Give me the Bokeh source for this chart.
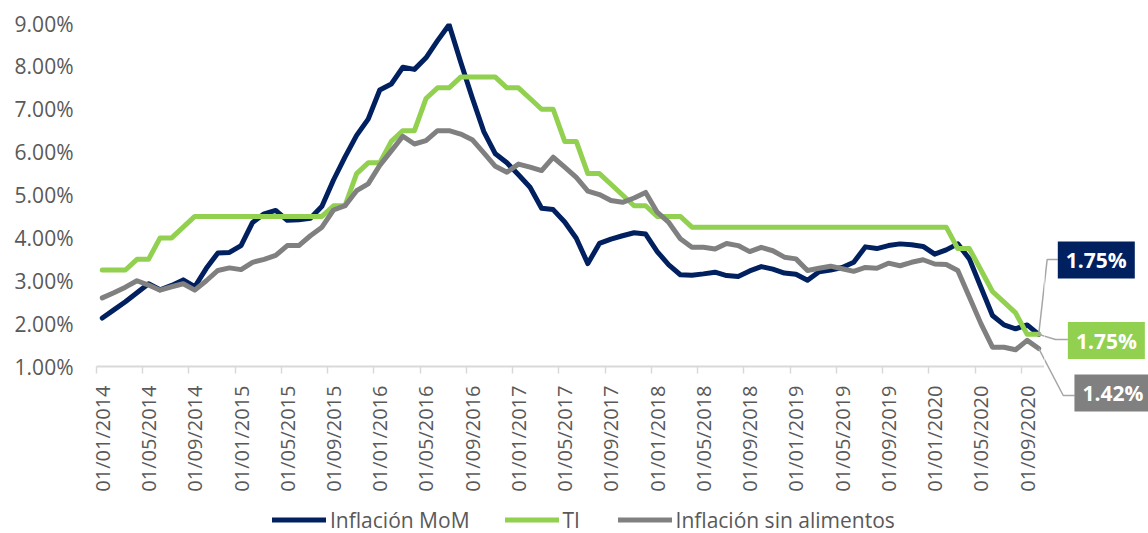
import numpy as np
from bokeh.plotting import figure
from bokeh.layouts import row, column
from bokeh.models import Range1d, FixedTicker, Legend, LegendItem
from bokeh.core.properties import value
from bokeh.embed import file_html
from bokeh.resources import INLINE

# ---- data -------------------------------------------------------------
months = [f"01/{m:02d}/{y}" for y in range(2014, 2021) for m in range(1, 13)][:82]

inflacion_mom = [
    2.13, 2.32, 2.51, 2.72, 2.93, 2.79, 2.89, 3.02, 2.86, 3.29, 3.65, 3.66,
    3.82, 4.36, 4.56, 4.64, 4.41, 4.42, 4.46, 4.74, 5.35, 5.89, 6.39, 6.77,
    7.45, 7.59, 7.98, 7.93, 8.20, 8.60, 8.97, 8.10, 7.27, 6.48, 5.96, 5.75,
    5.47, 5.18, 4.69, 4.66, 4.37, 3.99, 3.40, 3.87, 3.97, 4.05, 4.12, 4.09,
    3.68, 3.37, 3.14, 3.13, 3.16, 3.20, 3.12, 3.10, 3.23, 3.33, 3.27, 3.18,
    3.15, 3.01, 3.21, 3.25, 3.31, 3.43, 3.79, 3.75, 3.82, 3.86, 3.84, 3.80,
    3.62, 3.72, 3.86, 3.51, 2.85, 2.19, 1.97, 1.88, 1.97, 1.75,
]

ti = [
    3.25, 3.25, 3.25, 3.50, 3.50, 4.00, 4.00, 4.25, 4.50, 4.50, 4.50, 4.50,
    4.50, 4.50, 4.50, 4.50, 4.50, 4.50, 4.50, 4.50, 4.75, 4.75, 5.50, 5.75,
    5.75, 6.25, 6.50, 6.50, 7.25, 7.50, 7.50, 7.75, 7.75, 7.75, 7.75, 7.50,
    7.50, 7.25, 7.00, 7.00, 6.25, 6.25, 5.50, 5.50, 5.25, 5.00, 4.75, 4.75,
    4.50, 4.50, 4.50, 4.25, 4.25, 4.25, 4.25, 4.25, 4.25, 4.25, 4.25, 4.25,
    4.25, 4.25, 4.25, 4.25, 4.25, 4.25, 4.25, 4.25, 4.25, 4.25, 4.25, 4.25,
    4.25, 4.25, 3.75, 3.75, 3.25, 2.75, 2.50, 2.25, 1.75, 1.75,
]

sin_alimentos = [
    2.60, 2.72, 2.85, 3.00, 2.90, 2.78, 2.86, 2.93, 2.78, 3.00, 3.24, 3.30,
    3.26, 3.43, 3.50, 3.59, 3.82, 3.82, 4.05, 4.25, 4.65, 4.75, 5.10, 5.26,
    5.69, 6.03, 6.37, 6.19, 6.27, 6.50, 6.50, 6.42, 6.29, 5.98, 5.67, 5.53,
    5.72, 5.65, 5.57, 5.88, 5.65, 5.41, 5.09, 5.01, 4.87, 4.83, 4.93, 5.06,
    4.60, 4.36, 3.98, 3.78, 3.78, 3.74, 3.87, 3.82, 3.68, 3.78, 3.70, 3.55,
    3.51, 3.24, 3.29, 3.34, 3.28, 3.22, 3.31, 3.29, 3.41, 3.35, 3.43, 3.49,
    3.39, 3.38, 3.24, 2.62, 2.00, 1.45, 1.45, 1.39, 1.61, 1.42,
]

series_names = ["Inflación MoM", "TI", "Inflación sin alimentos"]
series_colors = ["#002060", "#92D050", "#808080"]

y_ticks = [1, 2, 3, 4, 5, 6, 7, 8, 9]
y_tick_labels = ["1.00%", "2.00%", "3.00%", "4.00%", "5.00%", "6.00%", "7.00%", "8.00%", "9.00%"]

# ---- layout constants ---------------------------------------------------
n = len(months)
x = list(range(n))
series = [inflacion_mom, ti, sin_alimentos]
FONT = "Open Sans"
TXT = "#595959"
W, H = 1148, 533
LEFT, TOP = 96, 23
FW, FH = 948, 343
AXIS_H = 138
LEG_H = H - TOP - FH - AXIS_H
SIDE_W = W - LEFT - FW
Y0, Y1 = 1, 9
px_per_x = FW / n
px_per_y = FH / (Y1 - Y0)

# ---- main figure --------------------------------------------------------
p = figure(frame_width=FW, frame_height=FH,
           x_range=Range1d(-0.5, n - 0.5), y_range=Range1d(Y0, Y1),
           output_backend="svg", toolbar_location=None,
           min_border_left=LEFT, min_border_right=0,
           min_border_top=TOP, min_border_bottom=AXIS_H)
p.outline_line_color = None
p.xgrid.visible = False
p.ygrid.visible = False

for vals, col in zip(series, series_colors):
    p.line(x, vals, line_color=col, line_width=5, line_join="round", line_cap="round")

# x axis
major = list(range(0, n, 4))
minor = [i - 0.5 for i in major]
xa = p.xaxis[0]
xa.ticker = FixedTicker(ticks=major, minor_ticks=minor)
xa.major_label_overrides = {i: months[i] for i in major}
xa.major_label_orientation = np.pi / 2
xa.major_tick_line_color = None
xa.major_tick_out = 0
xa.major_tick_in = 0
xa.minor_tick_line_color = "#D9D9D9"
xa.minor_tick_line_width = 1.5
xa.minor_tick_out = 7
xa.minor_tick_in = 0
xa.axis_line_color = "#D9D9D9"
xa.axis_line_width = 2
xa.major_label_standoff = 12
xa.major_label_text_font = FONT
xa.major_label_text_font_size = "20px"
xa.major_label_text_color = TXT

# y axis
ya = p.yaxis[0]
ya.ticker = FixedTicker(ticks=y_ticks)
ya.major_label_overrides = {v: l for v, l in zip(y_ticks, y_tick_labels)}
ya.axis_line_color = None
ya.major_tick_line_color = None
ya.minor_tick_line_color = None
ya.major_tick_out = 0
ya.major_label_standoff = 23
ya.major_label_text_font = FONT
ya.major_label_text_font_size = "21px"
ya.major_label_text_color = TXT

# ---- legend strip under the chart --------------------------------------
# the strip's y range (0-1) lies below every value, so its copies of the
# series stay hidden and only serve as legend swatches
lg = figure(frame_width=FW, frame_height=LEG_H, x_range=Range1d(0, 1), y_range=Range1d(0, 1),
            output_backend="svg", toolbar_location=None,
            x_axis_location=None, y_axis_location=None,
            min_border_left=LEFT, min_border_right=0, min_border_top=0, min_border_bottom=0)
lg.outline_line_color = None
lg.xgrid.visible = False
lg.ygrid.visible = False
leg_renderers = [lg.line(x, vals, line_color=c, line_width=5, line_cap="round")
                 for vals, c in zip(series, series_colors)]
items = [LegendItem(label=nm, renderers=[r]) for nm, r in zip(series_names, leg_renderers)]
legend = Legend(items=items, orientation="horizontal", location=(176, -1),
                glyph_width=54, glyph_height=LEG_H, label_standoff=4, spacing=35,
                padding=0, margin=0, border_line_color=None, background_fill_alpha=0,
                label_text_font=FONT, label_text_font_size="21px", label_text_color=TXT)
lg.add_layout(legend)

# ---- side panel for the end-value callouts (same scales) ---------------
x_side0 = n - 0.5
SIDE_FH = H - TOP
s = figure(frame_width=SIDE_W, frame_height=SIDE_FH,
           x_range=Range1d(x_side0, x_side0 + SIDE_W / px_per_x),
           y_range=Range1d(Y1 - SIDE_FH / px_per_y, Y1),
           output_backend="svg", toolbar_location=None,
           x_axis_location=None, y_axis_location=None,
           min_border_left=0, min_border_right=0, min_border_top=TOP, min_border_bottom=0)
s.outline_line_color = None
s.xgrid.visible = False
s.ygrid.visible = False

last = n - 1
callouts = [
    # values, colour, leader bend (dx, y), leader end dx, box centre (dx, y)
    (inflacion_mom, "#002060", (0.73, 3.496), 1.65, (4.98, 3.484)),
    (ti, "#92D050", (1.45, 1.63), 2.52, (5.85, 1.606)),
    (sin_alimentos, "#808080", (2.12, 0.324), 3.11, (6.42, 0.382)),
]
for vals, col, (bdx, by), edx, (cdx, cy) in callouts:
    lx = [last, last + bdx, last + edx]
    ly = [vals[-1], by, by]
    for fig in (p, s):
        fig.line(lx, ly, line_color="#A6A6A6", line_width=1.5)
    s.rect(x=[last + cdx], y=[cy], width=77, height=37,
           width_units="screen", height_units="screen",
           fill_color=col, line_color=None)
    s.text(x=[last + cdx], y=[cy], text=[f"{vals[-1]:.2f}%"],
           text_color="white", text_font=value(FONT), text_font_style="bold",
           text_font_size="21px", text_align="center", text_baseline="middle")

layout = row(column(p, lg, spacing=0), s, spacing=0)
open("out.html", "w").write(file_html(layout, INLINE))
